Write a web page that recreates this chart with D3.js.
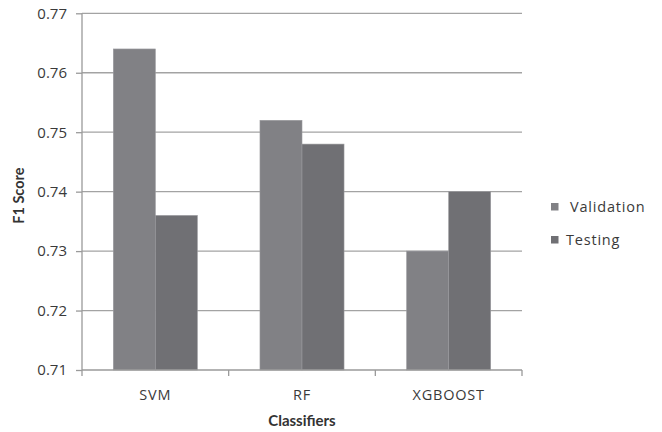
<!DOCTYPE html>
<html>
<head>
<meta charset="utf-8">
<script src="https://cdn.jsdelivr.net/npm/d3@7"></script>
<style>
  html, body { margin: 0; padding: 0; background: #fff; }
  svg { display: block; }
</style>
</head>
<body>
<svg id="chart" width="662" height="432"></svg>
<script>
// F1 scores of each classifier on the validation and testing sets
const classifiers = ["SVM", "RF", "XGBOOST"];
const seriesNames = ["Validation", "Testing"];
const validation = [0.764, 0.752, 0.730];
const testing = [0.736, 0.748, 0.740];
const yTicks = [0.71, 0.72, 0.73, 0.74, 0.75, 0.76, 0.77];
const colors = ["#818185", "#707074"];

const svg = d3.select("#chart");
const margin = { left: 82, right: 140, top: 13.3, bottom: 62 };
const W = 662, H = 432;
const innerW = W - margin.left - margin.right;
const innerH = H - margin.top - margin.bottom;

const g = svg.append("g").attr("transform", `translate(${margin.left},${margin.top})`);

const x = d3.scaleBand().domain(classifiers).range([0, innerW]).paddingInner(0).paddingOuter(0);
const xs = d3.scaleBand().domain(seriesNames).range([0, x.bandwidth()]).paddingInner(0).paddingOuter(0.745);
const y = d3.scaleLinear().domain([0.71, 0.77]).range([innerH, 0]);

// horizontal gridlines
g.append("g").selectAll("line").data(yTicks.slice(1)).join("line")
  .attr("x1", 0).attr("x2", innerW)
  .attr("y1", d => y(d)).attr("y2", d => y(d))
  .attr("stroke", "#a3a3a3").attr("stroke-width", 1.3);

// bars
const table = classifiers.map((c, i) => ({ c, vals: [validation[i], testing[i]] }));
const groups = g.append("g").selectAll("g").data(table).join("g")
  .attr("transform", d => `translate(${x(d.c)},0)`);
groups.selectAll("rect").data(d => d.vals.map((v, j) => ({ v, s: seriesNames[j], j }))).join("rect")
  .attr("x", d => xs(d.s))
  .attr("width", xs.bandwidth())
  .attr("y", d => y(d.v))
  .attr("height", d => innerH - y(d.v))
  .attr("fill", d => colors[d.j])
  .attr("stroke", "#9a9a9e")
  .attr("stroke-width", 0.6);

// y axis
const yAxis = d3.axisLeft(y).tickValues(yTicks).tickFormat(d3.format(".2f")).tickSize(6).tickPadding(9);
const ya = g.append("g").call(yAxis);
ya.select(".domain").attr("stroke", "#9a9a9a").attr("stroke-width", 1.3).attr("d", `M0,0V${innerH}`);
ya.selectAll(".tick line").attr("stroke", "#9a9a9a").attr("stroke-width", 1.3);
ya.selectAll(".tick text").attr("font-family", "Open Sans, sans-serif").attr("font-size", 15)
  .attr("fill", "#3a3a3a");

// x axis
const xa = g.append("g").attr("transform", `translate(0,${innerH})`);
xa.append("line").attr("x1", 0).attr("x2", innerW).attr("stroke", "#9a9a9a").attr("stroke-width", 1.3);
xa.selectAll(".sep").data(d3.range(classifiers.length + 1)).join("line")
  .attr("class", "sep")
  .attr("x1", i => i * x.step()).attr("x2", i => i * x.step())
  .attr("y1", 0).attr("y2", 6)
  .attr("stroke", "#9a9a9a").attr("stroke-width", 1.3);
xa.selectAll("text").data(classifiers).join("text")
  .attr("x", d => x(d) + x.bandwidth() / 2)
  .attr("y", 30)
  .attr("text-anchor", "middle")
  .attr("font-family", "Open Sans, sans-serif").attr("font-size", 14.5)
  .attr("letter-spacing", 0.8)
  .attr("fill", "#3a3a3a")
  .text(d => d);

// axis titles
svg.append("text")
  .attr("x", margin.left + innerW / 2).attr("y", 426)
  .attr("text-anchor", "middle")
  .attr("font-family", "Lato, sans-serif").attr("font-weight", "bold").attr("font-size", 15)
  .attr("fill", "#333")
  .text("Classifiers");
svg.append("text")
  .attr("transform", `translate(24,${margin.top + innerH / 2 + 4}) rotate(-90)`)
  .attr("text-anchor", "middle")
  .attr("font-family", "Lato, sans-serif").attr("font-weight", "bold").attr("font-size", 14.5)
  .attr("fill", "#333")
  .text("F1 Score");

// legend
const legend = svg.append("g").attr("transform", "translate(551,203)");
const items = legend.selectAll("g").data(seriesNames).join("g")
  .attr("transform", (d, i) => `translate(0,${i * 33})`);
items.append("rect").attr("width", 7.5).attr("height", 7.5).attr("fill", (d, i) => colors[i]);
items.append("text")
  .attr("x", (d, i) => i === 0 ? 19 : 15).attr("y", 9)
  .attr("font-family", "Open Sans, sans-serif").attr("font-size", 14.5)
  .attr("letter-spacing", 0.8)
  .attr("fill", "#3a3a3a")
  .text(d => d);
</script>
</body>
</html>
